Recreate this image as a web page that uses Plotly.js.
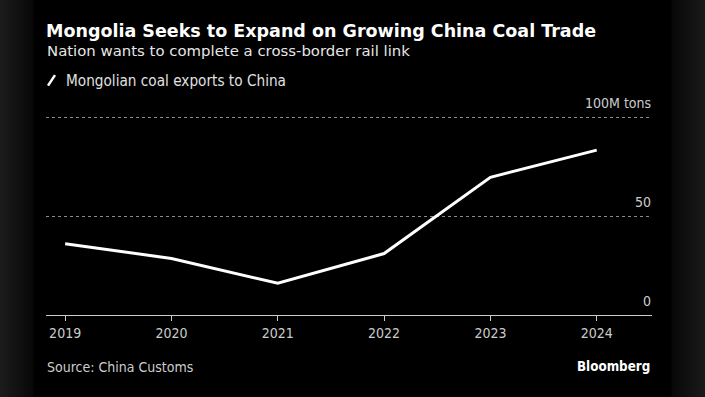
<!DOCTYPE html>
<html>
<head>
<meta charset="utf-8">
<script src="https://cdn.plot.ly/plotly-3.0.1.min.js"></script>
<style>
html,body{margin:0;padding:0;width:705px;height:397px;overflow:hidden;
background:linear-gradient(to right,#1c1c1c 0px,#080808 33px,#000 34px,#000 671px,#080808 672px,#1a1a1a 705px);}
#chart{width:705px;height:397px;}
</style>
</head>
<body>
<div id="chart"></div>
<script>
// Data
const years = [2019, 2020, 2021, 2022, 2023, 2024];
const coalExports = [36.2, 28.7, 16.1, 31.2, 69.9, 83.7];
const yTickVals = [0, 50, 100];
const yTickText = ["0", "50", "100M tons"];
const titleText = "Mongolia Seeks to Expand on Growing China Coal Trade";
const subtitleText = "Nation wants to complete a cross-border rail link";
const legendText = "Mongolian coal exports to China";
const sourceText = "Source: China Customs";
const brandText = "Bloomberg";

// Layout geometry (pixels)
const Y_MAX = 101;
const PX_PER_UNIT = 1.967;
const L = 46, R = 652, B = 315;
const T = B - Y_MAX * PX_PER_UNIT;
const W = R - L, H = B - T;
const px = x => (x - L) / W;
const py = y => (B - y) / H;
const FONT_C = "DejaVu Sans Condensed, DejaVu Sans, sans-serif";
const FONT = "DejaVu Sans, sans-serif";

const trace = {
  x: years,
  y: coalExports,
  type: "scatter",
  mode: "lines",
  name: legendText,
  line: {color: "#ffffff", width: 3},
  hoverinfo: "x+y",
  showlegend: false
};

// y-axis tick labels, placed on the axis scale just above each gridline
const yLabelAnnotations = yTickVals.map((v, i) => ({
  text: yTickText[i], xref: "paper", yref: "y", x: 1, y: v,
  xanchor: "right", yanchor: "middle", yshift: 14.5, xshift: 1,
  showarrow: false,
  font: {family: FONT_C, size: 14, color: "#cccccc"}
}));

const layout = {
  width: 705,
  height: 397,
  margin: {l: L, r: 705 - R, t: T, b: 397 - B},
  paper_bgcolor: "rgba(0,0,0,0)",
  plot_bgcolor: "rgba(0,0,0,0)",
  font: {family: FONT_C, color: "#cccccc", size: 14},
  title: {
    text: "<b>" + titleText + "</b>",
    xref: "container", yref: "container",
    x: 46 / 705, xanchor: "left",
    y: 1 - 30.5 / 397, yanchor: "middle",
    font: {family: FONT, size: 17.5, color: "#ffffff"}
  },
  xaxis: {
    range: [2018.82, 2024.52],
    tickvals: years,
    ticktext: years.map(String),
    ticks: "outside",
    ticklen: 5,
    tickwidth: 1,
    tickcolor: "#cccccc",
    showline: true,
    linecolor: "#cccccc",
    linewidth: 1,
    showgrid: false,
    zeroline: false,
    tickfont: {family: FONT_C, size: 14, color: "#cccccc"},
    fixedrange: true
  },
  yaxis: {
    range: [0, Y_MAX],
    side: "right",
    tickvals: yTickVals,
    ticktext: yTickText,
    showticklabels: false,
    ticks: "",
    showgrid: true,
    gridcolor: "#8a8a8a",
    griddash: "dot",
    gridwidth: 1,
    zeroline: false,
    showline: false,
    fixedrange: true
  },
  annotations: [
    ...yLabelAnnotations,
    {text: subtitleText, xref: "paper", yref: "paper", x: px(45), y: py(51.5),
     xanchor: "left", yanchor: "middle", showarrow: false,
     font: {family: FONT, size: 14.9, color: "#e6e6e6"}},
    {text: legendText, xref: "paper", yref: "paper", x: px(64), y: py(81),
     xanchor: "left", yanchor: "middle", showarrow: false,
     font: {family: FONT_C, size: 15.2, color: "#e0e0e0"}},
    {text: sourceText, xref: "paper", yref: "paper", x: px(45), y: py(367),
     xanchor: "left", yanchor: "middle", showarrow: false,
     font: {family: FONT_C, size: 14, color: "#cccccc"}},
    {text: "<b>" + brandText + "</b>", xref: "paper", yref: "paper", x: px(652), y: py(366),
     xanchor: "right", yanchor: "middle", showarrow: false,
     font: {family: FONT_C, size: 13.3, color: "#ffffff"}}
  ],
  shapes: [
    {type: "line", xref: "paper", yref: "paper",
     x0: px(48), y0: py(86), x1: px(55), y1: py(75.5),
     line: {color: "#ffffff", width: 2.5}}
  ]
};

Plotly.newPlot("chart", [trace], layout, {displayModeBar: false, staticPlot: true});
</script>
</body>
</html>
